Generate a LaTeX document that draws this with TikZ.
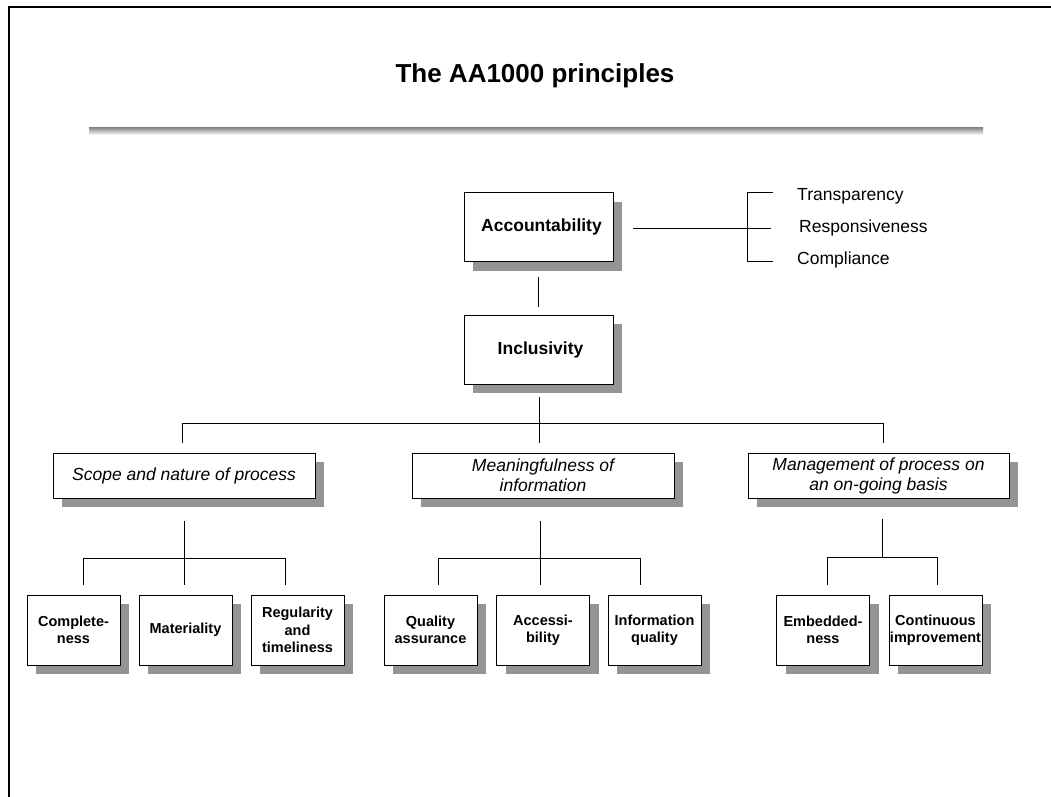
\documentclass[tikz,border=0pt]{standalone}
\usepackage{fontspec}
\setmainfont{Liberation Sans}
\usetikzlibrary{shadows}
\definecolor{shade}{gray}{0.58}
\begin{document}
\begin{tikzpicture}[x=1pt,y=-1pt,
  boxshadow/.style={drop shadow={shadow xshift=9pt,shadow yshift=-9pt,fill=shade,opacity=1}},
  topbox/.style={draw,fill=white,line width=0.9pt,minimum width=149pt,minimum height=69pt,inner sep=0pt,
    font=\fontsize{17.5}{21}\selectfont\bfseries,boxshadow},
  midbox/.style={draw,fill=white,line width=0.9pt,minimum width=262pt,minimum height=45pt,inner sep=0pt,
    align=center,font=\fontsize{17.5}{20}\selectfont\itshape,boxshadow},
  leafbox/.style={draw,fill=white,line width=0.9pt,minimum width=93pt,minimum height=70pt,inner sep=0pt,
    align=center,font=\fontsize{14.5}{17.5}\selectfont\bfseries,boxshadow},
  link/.style={line width=0.9pt},
  item/.style={anchor=west,inner sep=0pt,font=\fontsize{17.5}{21}\selectfont}]
\useasboundingbox (0,0) rectangle (1051,796);
\fill[white] (0,0) rectangle (1051,796);

% page frame and title rule
\draw[line width=2.5pt] (9,800) -- (9,7) -- (1056,7);
\node[font=\fontsize{26}{30}\selectfont\bfseries] (title) at (535,76) {The AA1000 principles};
\fill[shade] (89,127) rectangle (983,135);

% top of the hierarchy
\node[topbox] (acc) at (538.5,227) {\hspace*{6pt}Accountability};
\node[topbox] (inc) at (538.5,349.5) {\hspace*{4pt}Inclusivity};

% aspects of accountability
\node[item] (tra) at (797,196) {Transparency};
\node[item] (res) at (799,228) {Responsiveness};
\node[item] (com) at (797,260) {Compliance};
\coordinate (bt) at (747,192);
\coordinate (bb) at (747,261);
\draw[link] ([xshift=20pt]acc.east |- res.west) -- ([xshift=-28pt]res.west);
\draw[link] (bt -| tra.west) ++(-24,0) -- (bt) -- (bb) -- ++(26,0);

\draw[link] ([yshift=-15pt]acc.south) -- ([yshift=8pt]inc.north);

% second level
\node[midbox] (scope) at (184,475.5) {Scope and nature of process};
\node[midbox] (mean) at (543,475.5) {Meaningfulness of\\information};
\node[midbox,minimum width=261pt] (mgmt) at (878.5,475.5) {Management of process on\\an on-going basis};

\coordinate (j1) at (539,423);
\coordinate (j1l) at (182,423);
\coordinate (j1r) at (883,423);
\draw[link] ([yshift=-13pt]inc.south -| j1) -- (j1 |- 0,443);
\draw[link] (j1l |- 0,443) -- (j1l) -- (j1r) -- (j1r |- 0,443);

% third level
\node[leafbox] (cpl) at (73.5,630) {Complete-\\ness};
\node[leafbox] (mat) at (185.5,630) {Materiality};
\node[leafbox] (reg) at (297.5,630) {Regularity\\and\\timeliness};
\node[leafbox] (qua) at (430.5,630) {Quality\\assurance};
\node[leafbox] (acs) at (543,630) {Accessi-\\bility};
\node[leafbox] (inf) at (654.5,630) {Information\\quality};
\node[leafbox] (emb) at (823,630) {Embedded-\\ness};
\node[leafbox] (cim) at (935.5,630) {Continuous\\improvement};

% branches under the scope box
\draw[link] (184,521) -- (184,585);
\draw[link] (83,585) -- (83,558) -- (285,558) -- (285,585);
% branches under the meaningfulness box
\draw[link] (540,521) -- (540,585);
\draw[link] (438,585) -- (438,558) -- (640,558) -- (640,585);
% branches under the management box
\draw[link] (882,519) -- (882,557);
\draw[link] (827,585) -- (827,557) -- (937,557) -- (937,585);
\end{tikzpicture}
\end{document}
